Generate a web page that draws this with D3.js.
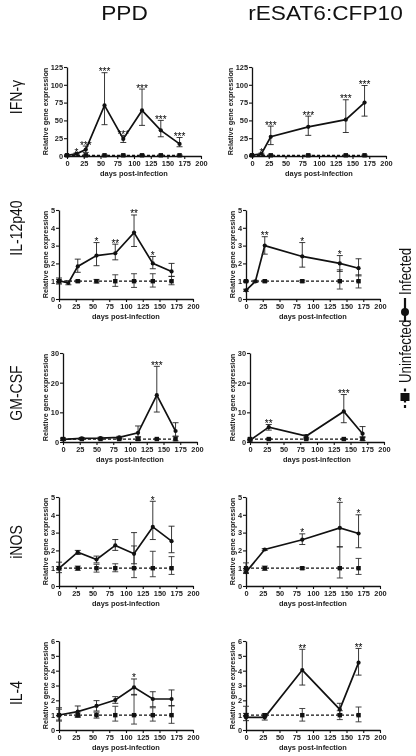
<!DOCTYPE html>
<html><head><meta charset="utf-8">
<script src="https://cdn.jsdelivr.net/npm/d3@7"></script>
<style>
html,body{margin:0;padding:0;background:#fff;}
svg{display:block;font-family:"Liberation Sans",Arial,Helvetica,sans-serif;will-change:transform;}
</style></head>
<body>
<svg id="chart" width="416" height="756"></svg>
<script>
// ---------- DATA ----------
const columnTitles = ["PPD", "rESAT6:CFP10"];
const rowTitles = ["IFN-\u03b3", "IL-12p40", "GM-CSF", "iNOS", "IL-4"];
const legendLabels = ["Uninfected", "Infected"];
const xTicks = [0, 25, 50, 75, 100, 125, 150, 175, 200];
const yTicksIfng = [0, 25, 50, 75, 100, 125];
const yTicksIl12 = [0, 1, 2, 3, 4, 5];
const yTicksGmcsf = [0, 10, 20, 30];
const yTicksInos = [0, 1, 2, 3, 4, 5];
const yTicksIl4 = [0, 1, 2, 3, 4, 5, 6];

// IFN-gamma, PPD
const ifngPpdDays = [0, 14, 28, 56, 84, 112, 140, 168];
const ifngPpdInf = [1, 3, 9, 71, 24, 64, 36, 17];
const ifngPpdInfHi = [1.5, 4, 14, 117, 29, 94, 50, 26];
const ifngPpdInfLo = [0.5, 2, 5, 44, 19, 43, 27, 13];
const ifngPpdSig = ["", "*", "***", "***", "***", "***", "***", "***"];
const ifngPpdUnDays = [0, 28, 56, 84, 112, 140, 168];
const ifngPpdUn = [1, 1, 1, 1, 1, 1, 1];
const ifngPpdUnHi = [1.5, 1.5, 1.5, 1.5, 1.5, 1.5, 1.5];
const ifngPpdUnLo = [0.5, 0.5, 0.5, 0.5, 0.5, 0.5, 0.5];
// IFN-gamma, rESAT6:CFP10
const ifngEsatDays = [0, 14, 28, 84, 140, 168];
const ifngEsatInf = [1, 3, 27, 41, 51, 75];
const ifngEsatInfHi = [1.5, 4, 42, 56, 79, 99];
const ifngEsatInfLo = [0.5, 2, 16, 29, 33, 56];
const ifngEsatSig = ["", "*", "***", "***", "***", "***"];
const ifngEsatUnDays = [0, 28, 84, 140, 168];
const ifngEsatUn = [1, 1, 1, 1, 1];
const ifngEsatUnHi = [1.5, 1.5, 1.5, 1.5, 1.5];
const ifngEsatUnLo = [0.5, 0.5, 0.5, 0.5, 0.5];

// IL-12p40, PPD
const il12PpdDays = [0, 14, 28, 56, 84, 112, 140, 168];
const il12PpdInf = [1.03, 0.9, 1.83, 2.44, 2.57, 3.73, 2.0, 1.55];
const il12PpdInfHi = [1.18, 1.03, 2.24, 3.17, 3.08, 4.72, 2.39, 2.0];
const il12PpdInfLo = [0.84, 0.8, 1.5, 1.87, 2.2, 2.95, 1.7, 1.27];
const il12PpdSig = ["", "", "", "*", "**", "**", "*", ""];
const il12PpdUnDays = [0, 28, 56, 84, 112, 140, 168];
const il12PpdUn = [1, 1, 1, 1, 1, 1, 1];
const il12PpdUnHi = [1.1, 1.05, 1.1, 1.36, 1.42, 1.42, 1.27];
const il12PpdUnLo = [0.9, 0.95, 0.9, 0.71, 0.65, 0.67, 0.8];
// IL-12p40, rESAT6:CFP10
const il12EsatDays = [0, 14, 28, 84, 140, 168];
const il12EsatInf = [0.49, 0.99, 3.0, 2.39, 2.0, 1.73];
const il12EsatInfHi = [0.55, 1.05, 3.5, 3.17, 2.44, 2.26];
const il12EsatInfLo = [0.43, 0.93, 2.52, 1.79, 1.55, 1.3];
const il12EsatSig = ["", "", "**", "*", "*", ""];
const il12EsatUnDays = [0, 28, 84, 140, 168];
const il12EsatUn = [1, 1, 1, 1, 1];
const il12EsatUnHi = [1.05, 1.05, 1.05, 1.64, 1.36];
const il12EsatUnLo = [0.95, 0.95, 0.95, 0.56, 0.62];

// GM-CSF, PPD
const gmcsfPpdDays = [0, 28, 56, 84, 112, 140, 168];
const gmcsfPpdInf = [0.9, 1.2, 1.3, 1.55, 3.1, 15.8, 3.7];
const gmcsfPpdInfHi = [1.3, 1.5, 1.6, 1.9, 5.4, 25.5, 6.5];
const gmcsfPpdInfLo = [0.5, 0.9, 1.0, 1.2, 1.8, 10.1, 2.0];
const gmcsfPpdSig = ["", "", "", "", "", "***", ""];
const gmcsfPpdUnDays = [0, 28, 56, 84, 112, 140, 168];
const gmcsfPpdUn = [1, 1, 1, 1, 1, 1, 1];
const gmcsfPpdUnHi = [1.3, 1.2, 1.2, 1.2, 1.6, 1.2, 1.8];
const gmcsfPpdUnLo = [0.7, 0.8, 0.8, 0.8, 0.5, 0.8, 0.4];
// GM-CSF, rESAT6:CFP10
const gmcsfEsatDays = [0, 28, 84, 140, 168];
const gmcsfEsatInf = [0.55, 5.0, 2.0, 10.3, 2.8];
const gmcsfEsatInfHi = [0.8, 5.9, 2.4, 16.0, 5.2];
const gmcsfEsatInfLo = [0.3, 4.0, 1.6, 6.5, 1.45];
const gmcsfEsatSig = ["", "**", "", "***", ""];
const gmcsfEsatUnDays = [0, 28, 84, 140, 168];
const gmcsfEsatUn = [1, 1, 1, 1, 1];
const gmcsfEsatUnHi = [1.3, 1.2, 1.2, 1.2, 1.8];
const gmcsfEsatUnLo = [0.7, 0.8, 0.8, 0.8, 0.5];

// iNOS, PPD
const inosPpdDays = [0, 28, 56, 84, 112, 140, 168];
const inosPpdInf = [0.99, 1.9, 1.49, 2.28, 1.81, 3.32, 2.52];
const inosPpdInfHi = [1.34, 2.0, 1.68, 2.61, 3.0, 4.76, 3.36];
const inosPpdInfLo = [0.75, 1.77, 1.3, 2.0, 1.25, 2.61, 1.87];
const inosPpdSig = ["", "", "", "", "", "*", ""];
const inosPpdUnDays = [0, 28, 56, 84, 112, 140, 168];
const inosPpdUn = [1, 1, 1, 1, 1, 1, 1];
const inosPpdUnHi = [1.1, 1.12, 1.22, 1.25, 2.25, 1.95, 1.65];
const inosPpdUnLo = [0.9, 0.88, 0.78, 0.8, 0.47, 0.52, 0.65];
// iNOS, rESAT6:CFP10
const inosEsatDays = [0, 28, 84, 140, 168];
const inosEsatInf = [0.78, 2.05, 2.6, 3.26, 2.95];
const inosEsatInfHi = [0.85, 2.1, 2.93, 4.7, 4.0];
const inosEsatInfLo = [0.7, 2.0, 2.33, 2.2, 2.15];
const inosEsatSig = ["", "", "*", "*", "*"];
const inosEsatUnDays = [0, 28, 84, 140, 168];
const inosEsatUn = [1, 1, 1, 1, 1];
const inosEsatUnHi = [1.3, 1.12, 1.05, 2.2, 1.55];
const inosEsatUnLo = [0.75, 0.88, 0.95, 0.45, 0.65];

// IL-4, PPD
const il4PpdDays = [0, 28, 56, 84, 112, 140, 168];
const il4PpdInf = [1.01, 1.24, 1.62, 2.02, 2.88, 2.09, 2.09];
const il4PpdInfHi = [1.5, 1.62, 1.98, 2.25, 3.44, 2.58, 2.7];
const il4PpdInfLo = [0.67, 0.9, 1.28, 1.8, 2.36, 1.57, 1.62];
const il4PpdSig = ["", "", "", "", "*", "", ""];
const il4PpdUnDays = [0, 28, 56, 84, 112, 140, 168];
const il4PpdUn = [1, 1, 1, 1, 1, 1, 1];
const il4PpdUnHi = [1.4, 1.15, 1.2, 1.6, 2.4, 1.5, 1.65];
const il4PpdUnLo = [0.6, 0.85, 0.8, 0.6, 0.4, 0.6, 0.45];
// IL-4, rESAT6:CFP10
const il4EsatDays = [0, 28, 84, 140, 168];
const il4EsatInf = [0.85, 0.85, 4.04, 1.39, 4.54];
const il4EsatInfHi = [1.12, 1.0, 5.44, 1.8, 5.5];
const il4EsatInfLo = [0.63, 0.67, 3.03, 1.08, 3.7];
const il4EsatSig = ["", "", "**", "", "**"];
const il4EsatUnDays = [0, 28, 84, 140, 168];
const il4EsatUn = [1, 1, 1, 1, 1];
const il4EsatUnHi = [1.6, 1.1, 1.45, 1.3, 1.55];
const il4EsatUnLo = [0.9, 0.9, 0.6, 0.7, 0.55];

// ---------- PANEL TABLE ----------
function series(days, m, hi, lo) { return days.map((d, i) => ({ d, m: m[i], hi: hi[i], lo: lo[i] })); }
const panels = [
  { row: 0, col: 0, yMax: 125, yTicks: yTicksIfng,
    inf: series(ifngPpdDays, ifngPpdInf, ifngPpdInfHi, ifngPpdInfLo), sig: ifngPpdSig,
    un: series(ifngPpdUnDays, ifngPpdUn, ifngPpdUnHi, ifngPpdUnLo) },
  { row: 0, col: 1, yMax: 125, yTicks: yTicksIfng,
    inf: series(ifngEsatDays, ifngEsatInf, ifngEsatInfHi, ifngEsatInfLo), sig: ifngEsatSig,
    un: series(ifngEsatUnDays, ifngEsatUn, ifngEsatUnHi, ifngEsatUnLo) },
  { row: 1, col: 0, yMax: 5, yTicks: yTicksIl12,
    inf: series(il12PpdDays, il12PpdInf, il12PpdInfHi, il12PpdInfLo), sig: il12PpdSig,
    un: series(il12PpdUnDays, il12PpdUn, il12PpdUnHi, il12PpdUnLo) },
  { row: 1, col: 1, yMax: 5, yTicks: yTicksIl12,
    inf: series(il12EsatDays, il12EsatInf, il12EsatInfHi, il12EsatInfLo), sig: il12EsatSig,
    un: series(il12EsatUnDays, il12EsatUn, il12EsatUnHi, il12EsatUnLo) },
  { row: 2, col: 0, yMax: 30, yTicks: yTicksGmcsf,
    inf: series(gmcsfPpdDays, gmcsfPpdInf, gmcsfPpdInfHi, gmcsfPpdInfLo), sig: gmcsfPpdSig,
    un: series(gmcsfPpdUnDays, gmcsfPpdUn, gmcsfPpdUnHi, gmcsfPpdUnLo) },
  { row: 2, col: 1, yMax: 30, yTicks: yTicksGmcsf,
    inf: series(gmcsfEsatDays, gmcsfEsatInf, gmcsfEsatInfHi, gmcsfEsatInfLo), sig: gmcsfEsatSig,
    un: series(gmcsfEsatUnDays, gmcsfEsatUn, gmcsfEsatUnHi, gmcsfEsatUnLo) },
  { row: 3, col: 0, yMax: 5, yTicks: yTicksInos,
    inf: series(inosPpdDays, inosPpdInf, inosPpdInfHi, inosPpdInfLo), sig: inosPpdSig,
    un: series(inosPpdUnDays, inosPpdUn, inosPpdUnHi, inosPpdUnLo) },
  { row: 3, col: 1, yMax: 5, yTicks: yTicksInos,
    inf: series(inosEsatDays, inosEsatInf, inosEsatInfHi, inosEsatInfLo), sig: inosEsatSig,
    un: series(inosEsatUnDays, inosEsatUn, inosEsatUnHi, inosEsatUnLo) },
  { row: 4, col: 0, yMax: 6, yTicks: yTicksIl4,
    inf: series(il4PpdDays, il4PpdInf, il4PpdInfHi, il4PpdInfLo), sig: il4PpdSig,
    un: series(il4PpdUnDays, il4PpdUn, il4PpdUnHi, il4PpdUnLo) },
  { row: 4, col: 1, yMax: 6, yTicks: yTicksIl4,
    inf: series(il4EsatDays, il4EsatInf, il4EsatInfHi, il4EsatInfLo), sig: il4EsatSig,
    un: series(il4EsatUnDays, il4EsatUn, il4EsatUnHi, il4EsatUnLo) }
];

// ---------- LAYOUT ----------
const axisX = [[67, 252], [59, 246], [63, 250], [59, 246], [59, 246]];
const rowTop = [67, 210, 353, 497, 641];
const plotW = 134, plotH = 89;
const rowLabelY = [97, 228, 393, 542, 693];
const colTitleX = [124.5, 325.5];
const ink = "#111";

const svg = d3.select("#chart");

// column titles
svg.selectAll("text.coltitle").data(columnTitles).join("text")
  .attr("class", "coltitle")
  .attr("x", (d, i) => colTitleX[i]).attr("y", 20)
  .attr("text-anchor", "middle")
  .attr("font-size", 21).attr("fill", ink)
  .attr("transform", (d, i) => `translate(${colTitleX[i]},20) scale(1.08,0.93) translate(${-colTitleX[i]},-20)`)
  .text(d => d);

// row titles
svg.selectAll("text.rowtitle").data(rowTitles).join("text")
  .attr("class", "rowtitle")
  .attr("transform", (d, i) => `translate(21.5,${rowLabelY[i]}) rotate(-90) scale(0.85,1.05)`)
  .attr("text-anchor", "middle")
  .attr("font-size", 16.5).attr("fill", ink)
  .text(d => d);

panels.forEach(p => {
  const x0 = axisX[p.row][p.col];
  const y0 = rowTop[p.row];
  const g = svg.append("g").attr("transform", `translate(${x0},${y0})`);
  const x = d3.scaleLinear().domain([0, 200]).range([0, plotW]);
  const y = d3.scaleLinear().domain([0, p.yMax]).range([plotH, 0]);

  // axes
  const gx = g.append("g").attr("transform", `translate(0,${plotH})`)
    .call(d3.axisBottom(x).tickValues(xTicks).tickFormat(d3.format("d"))
      .tickSize(3).tickPadding(1.5).tickSizeOuter(0));
  const gy = g.append("g")
    .call(d3.axisLeft(y).tickValues(p.yTicks).tickFormat(d3.format("d"))
      .tickSize(3).tickPadding(1).tickSizeOuter(0));
  [gx, gy].forEach(a => {
    a.selectAll("path.domain").attr("stroke", ink).attr("stroke-width", 1.3);
    a.selectAll(".tick line").attr("stroke", ink).attr("stroke-width", 1.1);
    a.selectAll(".tick text").attr("font-size", 7.4).attr("font-weight", "bold")
      .attr("fill", "#222").attr("font-family", "Liberation Sans, Arial, sans-serif");
  });

  // axis titles
  g.append("text").attr("x", plotW / 2).attr("y", plotH + 20)
    .attr("text-anchor", "middle").attr("font-size", 7.4).attr("font-weight", "bold")
    .attr("fill", "#222").text("days post-infection");
  const bw = gy.node().getBBox().width;
  g.append("text")
    .attr("transform", `translate(${-bw - 2.5},${plotH / 2}) rotate(-90)`)
    .attr("text-anchor", "middle").attr("font-size", 7.3).attr("font-weight", "bold")
    .attr("fill", "#222").text("Relative gene expression");

  // uninfected: dashed line; infected: solid line
  const line = d3.line().x(d => x(d.d)).y(d => y(d.m));
  g.append("path").datum(p.un).attr("d", line)
    .attr("fill", "none").attr("stroke", ink).attr("stroke-width", 1.3)
    .attr("stroke-dasharray", "3,2");
  g.append("path").datum(p.inf).attr("d", line)
    .attr("fill", "none").attr("stroke", ink).attr("stroke-width", 1.7);

  // error bars
  const drawErr = (data, col) => {
    const eg = g.append("g").attr("stroke", col).attr("stroke-width", 0.9).attr("fill", "none");
    eg.selectAll("line.v").data(data).join("line").attr("class", "v")
      .attr("x1", d => x(d.d)).attr("x2", d => x(d.d))
      .attr("y1", d => y(d.hi)).attr("y2", d => y(d.lo));
    eg.selectAll("line.h").data(data).join("line").attr("class", "h")
      .attr("x1", d => x(d.d) - 3).attr("x2", d => x(d.d) + 3)
      .attr("y1", d => y(d.hi)).attr("y2", d => y(d.hi));
    eg.selectAll("line.l").data(data).join("line").attr("class", "l")
      .attr("x1", d => x(d.d) - 3).attr("x2", d => x(d.d) + 3)
      .attr("y1", d => y(d.lo)).attr("y2", d => y(d.lo));
  };
  drawErr(p.un, "#333");
  drawErr(p.inf, "#222");

  // markers
  g.selectAll("rect.um").data(p.un).join("rect").attr("class", "um")
    .attr("x", d => x(d.d) - 2.2).attr("y", d => y(d.m) - 2.2)
    .attr("width", 4.4).attr("height", 4.4).attr("fill", ink);
  g.selectAll("circle.im").data(p.inf).join("circle").attr("class", "im")
    .attr("cx", d => x(d.d)).attr("cy", d => y(d.m)).attr("r", 2.1).attr("fill", ink);

  // significance stars
  g.selectAll("text.sig").data(p.inf.map((d, i) => ({ ...d, s: p.sig[i] })).filter(d => d.s))
    .join("text").attr("class", "sig")
    .attr("x", d => x(d.d)).attr("y", d => y(d.hi) + 2.5)
    .attr("text-anchor", "middle").attr("font-size", 10).attr("fill", "#000")
    .attr("font-family", "Liberation Sans, Arial, sans-serif")
    .text(d => d.s);
});

// legend (rotated)
const lg = svg.append("g").attr("transform", "translate(411,408) rotate(-90)");
lg.append("line").attr("x1", 0).attr("x2", 22).attr("y1", -6).attr("y2", -6)
  .attr("stroke", ink).attr("stroke-width", 2.2).attr("stroke-dasharray", "3,2.5");
lg.append("rect").attr("x", 7).attr("y", -10.5).attr("width", 8).attr("height", 9).attr("fill", ink);
lg.append("text").attr("x", 25).attr("y", 0).attr("font-size", 17).attr("fill", ink)
  .attr("transform", "translate(25,0) scale(0.78,1) translate(-25,0)")
  .text(legendLabels[0]);
lg.append("line").attr("x1", 86).attr("x2", 110).attr("y1", -6).attr("y2", -6)
  .attr("stroke", ink).attr("stroke-width", 2.2);
lg.append("circle").attr("cx", 96).attr("cy", -6).attr("r", 4).attr("fill", ink);
lg.append("text").attr("x", 113).attr("y", 0).attr("font-size", 17).attr("fill", ink)
  .attr("transform", "translate(113,0) scale(0.78,1) translate(-113,0)")
  .text(legendLabels[1]);
</script>
</body></html>
